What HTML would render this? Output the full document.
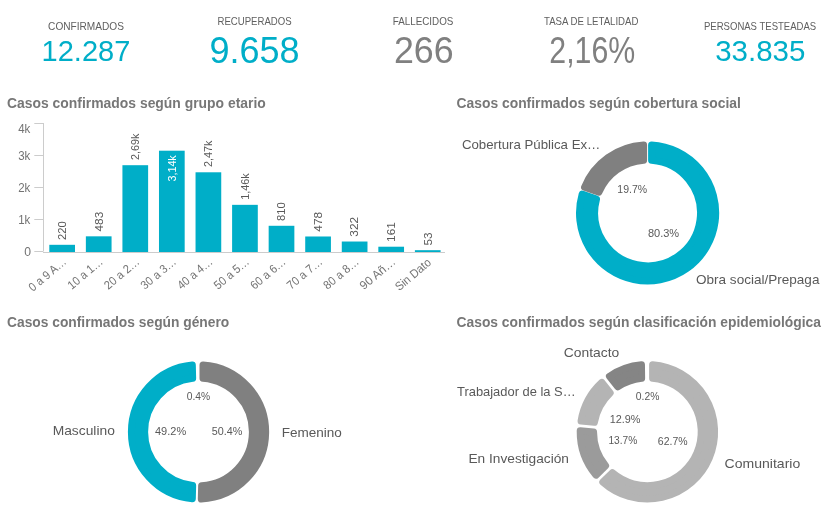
<!DOCTYPE html>
<html lang="es"><head><meta charset="utf-8"><title>Casos confirmados</title>
<style>html,body{margin:0;padding:0;background:#fff;overflow:hidden}svg{display:block;will-change:transform;font-family:'Liberation Sans', sans-serif}</style>
</head><body>
<svg width="832" height="518" viewBox="0 0 832 518">
<rect width="832" height="518" fill="#ffffff"/>
<text x="48.10" y="29.80" font-size="10.6" fill="#606060" font-weight="400" textLength="75.86" lengthAdjust="spacingAndGlyphs">CONFIRMADOS</text>
<text x="41.58" y="61.00" font-size="28.7" fill="#00aec8" font-weight="400" textLength="88.79" lengthAdjust="spacingAndGlyphs">12.287</text>
<text x="217.50" y="24.80" font-size="10.6" fill="#606060" font-weight="400" textLength="74.16" lengthAdjust="spacingAndGlyphs">RECUPERADOS</text>
<text x="209.50" y="62.90" font-size="36" fill="#00aec8" font-weight="400" textLength="90.12" lengthAdjust="spacingAndGlyphs">9.658</text>
<text x="392.70" y="24.80" font-size="10.6" fill="#606060" font-weight="400" textLength="60.66" lengthAdjust="spacingAndGlyphs">FALLECIDOS</text>
<text x="393.91" y="62.90" font-size="36" fill="#808080" font-weight="400" textLength="59.71" lengthAdjust="spacingAndGlyphs">266</text>
<text x="544.00" y="24.80" font-size="10.6" fill="#606060" font-weight="400" textLength="94.48" lengthAdjust="spacingAndGlyphs">TASA DE LETALIDAD</text>
<text x="549.36" y="62.90" font-size="36" fill="#808080" font-weight="400" textLength="85.89" lengthAdjust="spacingAndGlyphs">2,16%</text>
<text x="704.00" y="29.80" font-size="10.6" fill="#606060" font-weight="400" textLength="112.16" lengthAdjust="spacingAndGlyphs">PERSONAS TESTEADAS</text>
<text x="715.17" y="60.90" font-size="28.7" fill="#00aec8" font-weight="400" textLength="90.21" lengthAdjust="spacingAndGlyphs">33.835</text>
<text x="7.00" y="107.80" font-size="14.6" fill="#777777" font-weight="700" textLength="258.82" lengthAdjust="spacingAndGlyphs">Casos confirmados según grupo etario</text>
<text x="456.50" y="107.80" font-size="14.6" fill="#777777" font-weight="700" textLength="284.35" lengthAdjust="spacingAndGlyphs">Casos confirmados según cobertura social</text>
<text x="7.00" y="326.80" font-size="14.6" fill="#777777" font-weight="700" textLength="222.22" lengthAdjust="spacingAndGlyphs">Casos confirmados según género</text>
<text x="456.50" y="326.80" font-size="14.6" fill="#777777" font-weight="700" textLength="364.46" lengthAdjust="spacingAndGlyphs">Casos confirmados según clasificación epidemiológica</text>
<path d="M43.5 123V251.5" stroke="#cccccc" stroke-width="1" fill="none"/>
<path d="M43 252.5H445" stroke="#cccccc" stroke-width="1" fill="none"/>
<path d="M34.3 251.50H43" stroke="#cccccc" stroke-width="1" fill="none"/>
<text x="24.15" y="255.80" font-size="12.4" fill="#737373" font-weight="400" textLength="6.79" lengthAdjust="spacingAndGlyphs">0</text>
<path d="M34.3 219.50H43" stroke="#cccccc" stroke-width="1" fill="none"/>
<text x="18.15" y="223.80" font-size="12.4" fill="#737373" font-weight="400" textLength="12.15" lengthAdjust="spacingAndGlyphs">1k</text>
<path d="M34.3 187.50H43" stroke="#cccccc" stroke-width="1" fill="none"/>
<text x="18.15" y="191.80" font-size="12.4" fill="#737373" font-weight="400" textLength="12.15" lengthAdjust="spacingAndGlyphs">2k</text>
<path d="M34.3 155.50H43" stroke="#cccccc" stroke-width="1" fill="none"/>
<text x="18.15" y="159.80" font-size="12.4" fill="#737373" font-weight="400" textLength="12.15" lengthAdjust="spacingAndGlyphs">3k</text>
<path d="M34.3 123.50H43" stroke="#cccccc" stroke-width="1" fill="none"/>
<text x="18.15" y="132.80" font-size="12.4" fill="#737373" font-weight="400" textLength="12.15" lengthAdjust="spacingAndGlyphs">4k</text>
<rect x="49.30" y="244.81" width="25.7" height="7.19" fill="#00aec8"/>
<text transform="translate(65.95 240.01) rotate(-90)" x="0.00" y="0" font-size="11.7" fill="#595959" font-weight="400" textLength="18.82" lengthAdjust="spacingAndGlyphs">220</text>
<text transform="translate(66.55 263.60) rotate(-40)" x="-44.00" y="0" font-size="12" fill="#737373" font-weight="400" textLength="44.90" lengthAdjust="spacingAndGlyphs">0 a 9 A…</text>
<rect x="85.86" y="236.33" width="25.7" height="15.67" fill="#00aec8"/>
<text transform="translate(102.51 231.53) rotate(-90)" x="0.00" y="0" font-size="11.7" fill="#595959" font-weight="400" textLength="19.81" lengthAdjust="spacingAndGlyphs">483</text>
<text transform="translate(103.11 263.60) rotate(-40)" x="-41.00" y="0" font-size="12" fill="#737373" font-weight="400" textLength="41.92" lengthAdjust="spacingAndGlyphs">10 a 1…</text>
<rect x="122.42" y="165.20" width="25.7" height="86.80" fill="#00aec8"/>
<text transform="translate(139.07 160.00) rotate(-90)" x="0.00" y="0" font-size="11.7" fill="#595959" font-weight="400" textLength="26.36" lengthAdjust="spacingAndGlyphs">2,69k</text>
<text transform="translate(139.67 263.60) rotate(-40)" x="-41.00" y="0" font-size="12" fill="#737373" font-weight="400" textLength="41.92" lengthAdjust="spacingAndGlyphs">20 a 2…</text>
<rect x="158.98" y="150.70" width="25.7" height="101.30" fill="#00aec8"/>
<text transform="translate(175.63 181.60) rotate(-90)" x="0.00" y="0" font-size="11.7" fill="#ffffff" font-weight="400" textLength="26.36" lengthAdjust="spacingAndGlyphs">3,14k</text>
<text transform="translate(176.23 263.60) rotate(-40)" x="-41.00" y="0" font-size="12" fill="#737373" font-weight="400" textLength="41.92" lengthAdjust="spacingAndGlyphs">30 a 3…</text>
<rect x="195.54" y="172.29" width="25.7" height="79.71" fill="#00aec8"/>
<text transform="translate(212.19 167.09) rotate(-90)" x="0.00" y="0" font-size="11.7" fill="#595959" font-weight="400" textLength="26.36" lengthAdjust="spacingAndGlyphs">2,47k</text>
<text transform="translate(212.79 263.60) rotate(-40)" x="-41.00" y="0" font-size="12" fill="#737373" font-weight="400" textLength="41.92" lengthAdjust="spacingAndGlyphs">40 a 4…</text>
<rect x="232.10" y="204.84" width="25.7" height="47.16" fill="#00aec8"/>
<text transform="translate(248.75 199.64) rotate(-90)" x="0.00" y="0" font-size="11.7" fill="#595959" font-weight="400" textLength="26.36" lengthAdjust="spacingAndGlyphs">1,46k</text>
<text transform="translate(249.35 263.60) rotate(-40)" x="-41.00" y="0" font-size="12" fill="#737373" font-weight="400" textLength="41.92" lengthAdjust="spacingAndGlyphs">50 a 5…</text>
<rect x="268.66" y="225.79" width="25.7" height="26.21" fill="#00aec8"/>
<text transform="translate(285.31 220.99) rotate(-90)" x="0.00" y="0" font-size="11.7" fill="#595959" font-weight="400" textLength="18.82" lengthAdjust="spacingAndGlyphs">810</text>
<text transform="translate(285.91 263.60) rotate(-40)" x="-41.00" y="0" font-size="12" fill="#737373" font-weight="400" textLength="41.92" lengthAdjust="spacingAndGlyphs">60 a 6…</text>
<rect x="305.22" y="236.49" width="25.7" height="15.51" fill="#00aec8"/>
<text transform="translate(321.87 231.69) rotate(-90)" x="0.00" y="0" font-size="11.7" fill="#595959" font-weight="400" textLength="19.81" lengthAdjust="spacingAndGlyphs">478</text>
<text transform="translate(322.47 263.60) rotate(-40)" x="-41.00" y="0" font-size="12" fill="#737373" font-weight="400" textLength="41.92" lengthAdjust="spacingAndGlyphs">70 a 7…</text>
<rect x="341.78" y="241.52" width="25.7" height="10.48" fill="#00aec8"/>
<text transform="translate(358.43 236.72) rotate(-90)" x="0.00" y="0" font-size="11.7" fill="#595959" font-weight="400" textLength="19.81" lengthAdjust="spacingAndGlyphs">322</text>
<text transform="translate(359.03 263.60) rotate(-40)" x="-41.00" y="0" font-size="12" fill="#737373" font-weight="400" textLength="41.92" lengthAdjust="spacingAndGlyphs">80 a 8…</text>
<rect x="378.34" y="246.71" width="25.7" height="5.29" fill="#00aec8"/>
<text transform="translate(394.99 241.91) rotate(-90)" x="0.00" y="0" font-size="11.7" fill="#595959" font-weight="400" textLength="19.81" lengthAdjust="spacingAndGlyphs">161</text>
<text transform="translate(395.59 263.60) rotate(-40)" x="-41.50" y="0" font-size="12" fill="#737373" font-weight="400" textLength="42.48" lengthAdjust="spacingAndGlyphs">90 Añ…</text>
<rect x="414.90" y="250.19" width="25.7" height="1.81" fill="#00aec8"/>
<text transform="translate(431.55 245.59) rotate(-90)" x="0.00" y="0" font-size="11.7" fill="#595959" font-weight="400" textLength="13.10" lengthAdjust="spacingAndGlyphs">53</text>
<text transform="translate(432.15 263.60) rotate(-40)" x="-43.00" y="0" font-size="12" fill="#737373" font-weight="400" textLength="42.70" lengthAdjust="spacingAndGlyphs">Sin Dato</text>
<path d="M651.60 144.92A68.10 68.10 0 1 1 582.14 194.12L596.53 199.10A52.90 52.90 0 1 0 651.60 160.15Z" fill="#00aec8" stroke="#00aec8" stroke-width="7.0" stroke-linejoin="round"/>
<path d="M584.53 187.22A68.10 68.10 0 0 1 643.60 144.92L643.60 160.15A52.90 52.90 0 0 0 598.92 192.20Z" fill="#808080" stroke="#808080" stroke-width="7.0" stroke-linejoin="round"/>
<text x="617.30" y="192.70" font-size="11.7" fill="#595959" font-weight="400" textLength="29.75" lengthAdjust="spacingAndGlyphs">19.7%</text>
<text x="647.90" y="237.40" font-size="11.7" fill="#595959" font-weight="400" textLength="31.27" lengthAdjust="spacingAndGlyphs">80.3%</text>
<text x="461.90" y="148.80" font-size="13.4" fill="#595959" font-weight="400" textLength="138.48" lengthAdjust="spacingAndGlyphs">Cobertura Pública Ex…</text>
<text x="696.00" y="283.50" font-size="13.4" fill="#595959" font-weight="400" textLength="123.44" lengthAdjust="spacingAndGlyphs">Obra social/Prepaga</text>
<path d="M203.00 364.90A67.15 67.15 0 0 1 201.31 498.99L201.65 485.71A53.90 53.90 0 0 0 203.00 378.19Z" fill="#808080" stroke="#808080" stroke-width="7.0" stroke-linejoin="round"/>
<path d="M192.32 498.76A67.15 67.15 0 0 1 192.32 365.04L192.65 378.32A53.90 53.90 0 0 0 192.65 485.48Z" fill="#00aec8" stroke="#00aec8" stroke-width="7.0" stroke-linejoin="round"/>
<text x="186.70" y="399.70" font-size="11.7" fill="#595959" font-weight="400" textLength="23.34" lengthAdjust="spacingAndGlyphs">0.4%</text>
<text x="155.00" y="434.60" font-size="11.7" fill="#595959" font-weight="400" textLength="31.17" lengthAdjust="spacingAndGlyphs">49.2%</text>
<text x="211.70" y="434.60" font-size="11.7" fill="#595959" font-weight="400" textLength="30.56" lengthAdjust="spacingAndGlyphs">50.4%</text>
<text x="52.67" y="434.80" font-size="13.4" fill="#595959" font-weight="400" textLength="62.19" lengthAdjust="spacingAndGlyphs">Masculino</text>
<text x="281.69" y="436.70" font-size="13.4" fill="#595959" font-weight="400" textLength="60.16" lengthAdjust="spacingAndGlyphs">Femenino</text>
<path d="M652.60 364.80A67.20 67.20 0 1 1 602.80 482.07L612.39 472.72A53.85 53.85 0 1 0 652.60 378.20Z" fill="#b4b4b4" stroke="#b4b4b4" stroke-width="7.0" stroke-linejoin="round"/>
<path d="M596.03 475.12A67.20 67.20 0 0 1 580.21 430.74L593.55 431.92A53.85 53.85 0 0 0 605.62 465.77Z" fill="#9b9b9b" stroke="#9b9b9b" stroke-width="7.0" stroke-linejoin="round"/>
<path d="M581.06 421.08A67.20 67.20 0 0 1 601.86 382.38L610.20 392.86A53.85 53.85 0 0 0 594.40 422.26Z" fill="#b4b4b4" stroke="#b4b4b4" stroke-width="7.0" stroke-linejoin="round"/>
<path d="M609.45 376.34A67.20 67.20 0 0 1 641.46 364.86L641.63 378.26A53.85 53.85 0 0 0 617.79 386.82Z" fill="#858585" stroke="#858585" stroke-width="7.0" stroke-linejoin="round"/>
<text x="635.80" y="399.60" font-size="11.7" fill="#595959" font-weight="400" textLength="23.55" lengthAdjust="spacingAndGlyphs">0.2%</text>
<text x="609.70" y="422.60" font-size="11.7" fill="#595959" font-weight="400" textLength="30.76" lengthAdjust="spacingAndGlyphs">12.9%</text>
<text x="608.40" y="443.80" font-size="11.7" fill="#595959" font-weight="400" textLength="28.84" lengthAdjust="spacingAndGlyphs">13.7%</text>
<text x="657.80" y="444.90" font-size="11.7" fill="#595959" font-weight="400" textLength="29.75" lengthAdjust="spacingAndGlyphs">62.7%</text>
<text x="563.80" y="356.90" font-size="13.4" fill="#595959" font-weight="400" textLength="55.46" lengthAdjust="spacingAndGlyphs">Contacto</text>
<text x="457.00" y="396.00" font-size="13.4" fill="#595959" font-weight="400" textLength="118.64" lengthAdjust="spacingAndGlyphs">Trabajador de la S…</text>
<text x="468.48" y="462.50" font-size="13.4" fill="#595959" font-weight="400" textLength="100.48" lengthAdjust="spacingAndGlyphs">En Investigación</text>
<text x="724.60" y="467.70" font-size="13.4" fill="#595959" font-weight="400" textLength="75.67" lengthAdjust="spacingAndGlyphs">Comunitario</text>
</svg>
</body></html>
